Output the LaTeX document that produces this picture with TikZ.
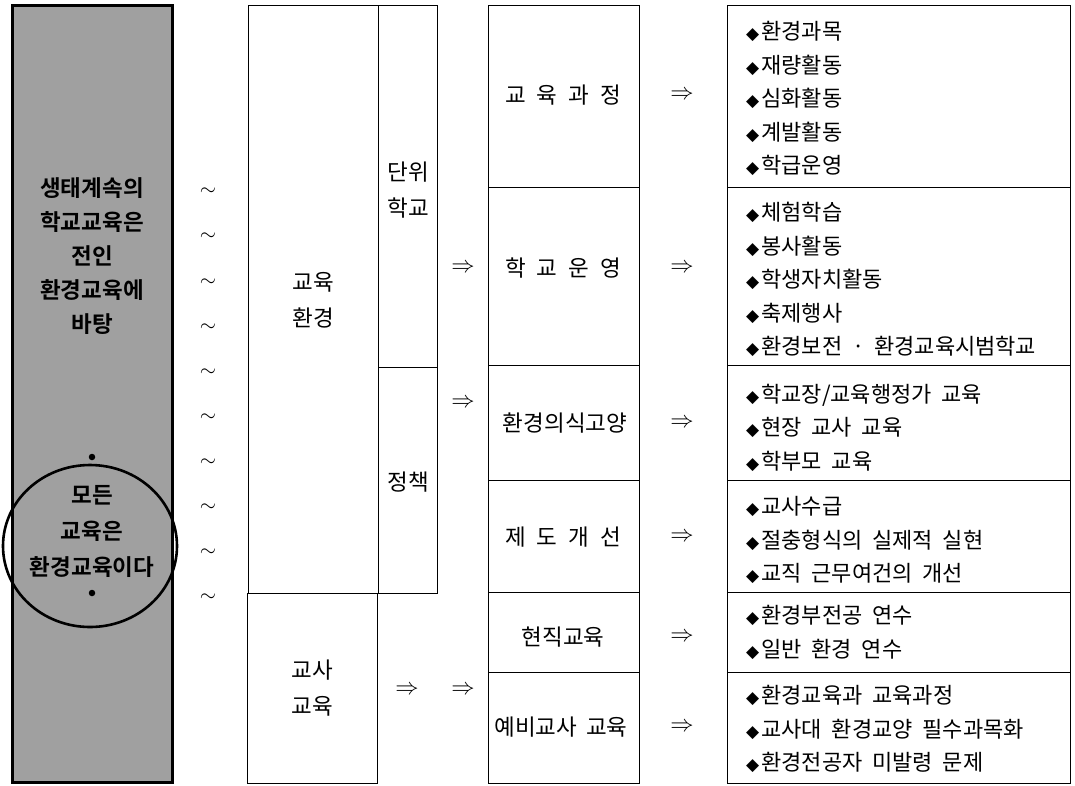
\documentclass[tikz,border=0pt]{standalone}
\usepackage{fontspec}
\setmainfont{Noto Sans CJK KR}[BoldFont={Noto Sans CJK KR Bold}]
\newfontfamily\itemfont{Noto Sans CJK KR}[WordSpace=2]
\newfontfamily\dvfont{DejaVu Sans}
\newcommand\dm{{\dvfont\fontsize{17}{17}\selectfont ◆}\hspace{2pt}}
\newcommand\darr{\scalebox{1.35}{$\Rightarrow$}}
\newcommand\tl{\scalebox{1.45}{$\sim$}}
\definecolor{panelgray}{RGB}{160,160,160}
\tikzset{
  panel/.style={draw, line width=3pt, fill=panelgray, inner sep=0pt},
  ptext/.style={font=\bfseries\fontsize{22.5}{34}\selectfont, align=center, text=black},
  dotmark/.style={circle, fill=black, inner sep=0pt, minimum size=6.5pt},
  box/.style={draw, line width=0.9pt, inner sep=0pt},
  lbl/.style={font=\fontsize{22.5}{36}\selectfont, align=center},
  mtext/.style={font=\fontsize{22.5}{24}\selectfont},
  itemtext/.style={font=\itemfont\fontsize{22}{33.5}\selectfont, align=left, anchor=west, inner sep=0pt},
  arr/.style={font=\fontsize{17}{17}\selectfont},
  tld/.style={font=\fontsize{14}{14}\selectfont}
}
\begin{document}
\begin{tikzpicture}[x=1pt,y=-1pt]
\useasboundingbox (0,0) rectangle (1075,785);
% left panel
\node[panel, minimum width=160, minimum height=777] (panel) at (92,393.5) {};
\node[ptext] (p1) at (92,256) {생태계속의\\학교교육은\\전인\\환경교육에\\바탕};
\node[dotmark] (d1) at (92,457) {};
\node[ptext, font=\bfseries\fontsize{22.5}{36}\selectfont] (p2) at (92,531) {모든\\교육은\\환경교육이다};
\node[dotmark] (d2) at (92,593) {};
\draw[line width=2.6pt] (90,546) ellipse [x radius=87, y radius=81];
% tildes
\foreach \i in {0,...,9} \node[tld] (t\i) at (208,{192+45.1*\i}) {\tl};
% second column
\node[box, minimum width=130, minimum height=588] (env) at (313,299) {};
\node[lbl] (envt) at (313,300) {교육\\환경};
\node[box, minimum width=59, minimum height=362] (unit) at (407.5,186) {};
\node[lbl] (unitt) at (408,190) {단위\\학교};
\node[box, minimum width=59, minimum height=226] (policy) at (407.5,480) {};
\node[lbl] (policyt) at (408,482) {정책};
\node[box, minimum width=130, minimum height=190] (teach) at (312,688) {};
\node[lbl] (teacht) at (312,688) {교사\\교육};
% arrows between columns
\node[arr] (a1) at (463,268) {\darr};
\node[arr] (a2) at (463,403) {\darr};
\node[arr] (a3) at (407,690) {\darr};
\node[arr] (a4) at (463,690) {\darr};
% middle column
\node[box, minimum width=151, minimum height=182] (m1) at (563.5,96) {};
\node[box, minimum width=151, minimum height=178] (m2) at (563.5,276) {};
\node[box, minimum width=151, minimum height=115] (m3) at (563.5,422.5) {};
\node[box, minimum width=151, minimum height=112] (m4) at (563.5,536) {};
\node[box, minimum width=151, minimum height=80] (m5) at (563.5,632) {};
\node[box, minimum width=151, minimum height=111] (m6) at (563.5,727.5) {};
\node[mtext] (m1t) at (563,95) {교\hspace{11pt}육\hspace{11pt}과\hspace{11pt}정};
\node[mtext] (m2t) at (563,268) {학\hspace{11pt}교\hspace{11pt}운\hspace{11pt}영};
\node[mtext] (m3t) at (565,423) {환경의식고양};
\node[mtext] (m4t) at (563,537) {제\hspace{11pt}도\hspace{11pt}개\hspace{11pt}선};
\node[mtext] (m5t) at (563,637) {현직교육};
\node[mtext] (m6t) at (561,727) {예비교사\hspace{9pt}교육};
% arrows to right column
\node[arr] (b1) at (682,95) {\darr};
\node[arr] (b2) at (682,268) {\darr};
\node[arr] (b3) at (682,423) {\darr};
\node[arr] (b4) at (682,537) {\darr};
\node[arr] (b5) at (682,637) {\darr};
\node[arr] (b6) at (682,727) {\darr};
% right column
\node[box, minimum width=343, minimum height=182] (r1) at (898.5,96) {};
\node[box, minimum width=343, minimum height=178] (r2) at (898.5,276) {};
\node[box, minimum width=343, minimum height=115] (r3) at (898.5,422.5) {};
\node[box, minimum width=343, minimum height=112] (r4) at (898.5,536) {};
\node[box, minimum width=343, minimum height=80] (r5) at (898.5,632) {};
\node[box, minimum width=343, minimum height=111] (r6) at (898.5,727.5) {};
\node[itemtext] (r1t) at (746,98.5) {\dm 환경과목\\\dm 재량활동\\\dm 심화활동\\\dm 계발활동\\\dm 학급운영};
\node[itemtext] (r2t) at (746,279.5) {\dm 체험학습\\\dm 봉사활동\\\dm 학생자치활동\\\dm 축제행사\\\dm 환경보전 · 환경교육시범학교};
\node[itemtext] (r3t) at (746,427.5) {\dm 학교장/교육행정가 교육\\\dm 현장 교사 교육\\\dm 학부모 교육};
\node[itemtext] (r4t) at (746,540) {\dm 교사수급\\\dm 절충형식의 실제적 실현\\\dm 교직 근무여건의 개선};
\node[itemtext] (r5t) at (746,632.5) {\dm 환경부전공 연수\\\dm 일반 환경 연수};
\node[itemtext] (r6t) at (746,729) {\dm 환경교육과 교육과정\\\dm 교사대 환경교양 필수과목화\\\dm 환경전공자 미발령 문제};
\end{tikzpicture}
\end{document}
